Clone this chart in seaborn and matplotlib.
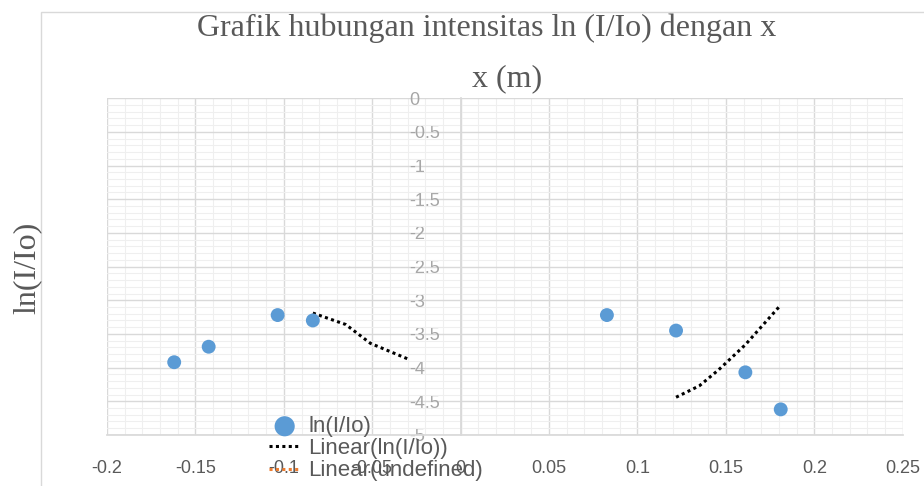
import matplotlib
matplotlib.use("Agg")
import matplotlib.pyplot as plt
import pandas as pd
import seaborn as sns
from matplotlib.lines import Line2D
from matplotlib.patches import Rectangle
from matplotlib.ticker import MultipleLocator

# measured points
x_pos = [-0.162, -0.1425, -0.1035, -0.0836, 0.0827, 0.1218, 0.161, 0.181]
ln_ratio = [-3.92, -3.69, -3.22, -3.30, -3.22, -3.45, -4.07, -4.62]

# trendline pieces as drawn in the original
trend_left_x = [-0.0836, -0.065, -0.051, -0.030]
trend_left_y = [-3.19, -3.36, -3.64, -3.87]
trend_right_x = [0.1218, 0.135, 0.146, 0.161, 0.180]
trend_right_y = [-4.44, -4.27, -4.03, -3.66, -3.10]

x_ticks = [-0.2, -0.15, -0.1, -0.05, 0, 0.05, 0.1, 0.15, 0.2, 0.25]
x_tick_labels = ["-0.2", "-0.15", "-0.1", "-0.05", "0", "0.05", "0.1", "0.15", "0.2", "0.25"]
y_ticks = [0, -0.5, -1, -1.5, -2, -2.5, -3, -3.5, -4, -4.5, -5]
y_tick_labels = ["0", "-0.5", "-1", "-1.5", "-2", "-2.5", "-3", "-3.5", "-4", "-4.5", "-5"]

BLUE = "#5B9BD5"
ORANGE = "#ED7D31"
GREY = "#595959"

sns.set_theme(style="white")
plt.rcParams["font.family"] = ["Liberation Sans", "DejaVu Sans"]

fig = plt.figure(figsize=(9.24, 4.86), dpi=100)
ax = fig.add_axes([0.1158, 0.105, 0.977 - 0.1158, 0.798 - 0.105])

# chart area border
fig.patches.append(Rectangle((41 / 924, -0.01), 1.0, 1 - 12 / 486 + 0.01,
                             transform=fig.transFigure, fill=False,
                             edgecolor="#d9d9d9", linewidth=1.0))

pts = pd.DataFrame({"x": x_pos, "y": ln_ratio})
left = pd.DataFrame({"x": trend_left_x, "y": trend_left_y})
right = pd.DataFrame({"x": trend_right_x, "y": trend_right_y})

sns.lineplot(data=left, x="x", y="y", sort=False, color="black", linewidth=2.2,
             ax=ax, zorder=3, label="Linear(ln(I/Io))")
sns.lineplot(data=right, x="x", y="y", sort=False, color="black", linewidth=2.2,
             ax=ax, zorder=3)
for ln in ax.lines:
    ln.set_dashes((1, 1.1))
sns.scatterplot(data=pts, x="x", y="y", color=BLUE, s=100, edgecolor="none",
                ax=ax, zorder=4, label="ln(I/Io)")

ax.set_xlim(-0.2, 0.25)
ax.set_ylim(-5, 0)
ax.set_xticks(x_ticks)
ax.set_xticklabels(x_tick_labels)
ax.set_yticks(y_ticks)
ax.set_yticklabels(y_tick_labels)
ax.xaxis.set_minor_locator(MultipleLocator(0.01))
ax.yaxis.set_minor_locator(MultipleLocator(0.1))
ax.grid(which="major", color="#d9d9d9", linewidth=1.0)
ax.grid(which="minor", color="#efefef", linewidth=0.8)
ax.set_axisbelow(True)

for side in ["top", "right"]:
    ax.spines[side].set_visible(False)
ax.spines["left"].set_position(("data", 0))
ax.spines["left"].set_color("#d9d9d9")
ax.spines["bottom"].set_color("#d9d9d9")

ax.tick_params(axis="x", length=0, pad=18, labelsize=13, labelcolor=GREY)
ax.tick_params(axis="y", length=0, pad=37, labelsize=13, labelcolor="#a6a6a6")
for lbl in ax.get_yticklabels():
    lbl.set_horizontalalignment("left")

ax.set_xlabel("")
ax.set_ylabel("")

serif = ["Liberation Serif", "DejaVu Serif"]
fig.text(0.527, 1 - 28 / 486, "Grafik hubungan intensitas ln (I/Io) dengan x",
         ha="center", va="center", family=serif, fontsize=23, color=GREY)
fig.text(0.549, 1 - 79 / 486, "x (m)", ha="center", va="center", family=serif,
         fontsize=23, color=GREY)
fig.text(27 / 924, 1 - 268 / 486, "ln(I/Io)", ha="center", va="center", rotation=90,
         family=serif, fontsize=23, color=GREY)

h, l = ax.get_legend_handles_labels()
handles = {lab: hd for hd, lab in zip(h, l)}
undefined = Line2D([], [], color=ORANGE, linewidth=2.2, dashes=(1, 1.1))
leg = fig.legend([handles["ln(I/Io)"], handles["Linear(ln(I/Io))"], undefined],
                 ["ln(I/Io)", "Linear(ln(I/Io))", "Linear(undefined)"],
                 loc="upper left", bbox_to_anchor=(258 / 924, 1 - 405 / 486),
                 frameon=False, fontsize=16, labelcolor=GREY, handlelength=1.4,
                 handletextpad=0.35, labelspacing=0.05, markerscale=1.45, borderpad=0)
if ax.get_legend():
    ax.get_legend().remove()

fig.savefig("out.png", dpi=100)
